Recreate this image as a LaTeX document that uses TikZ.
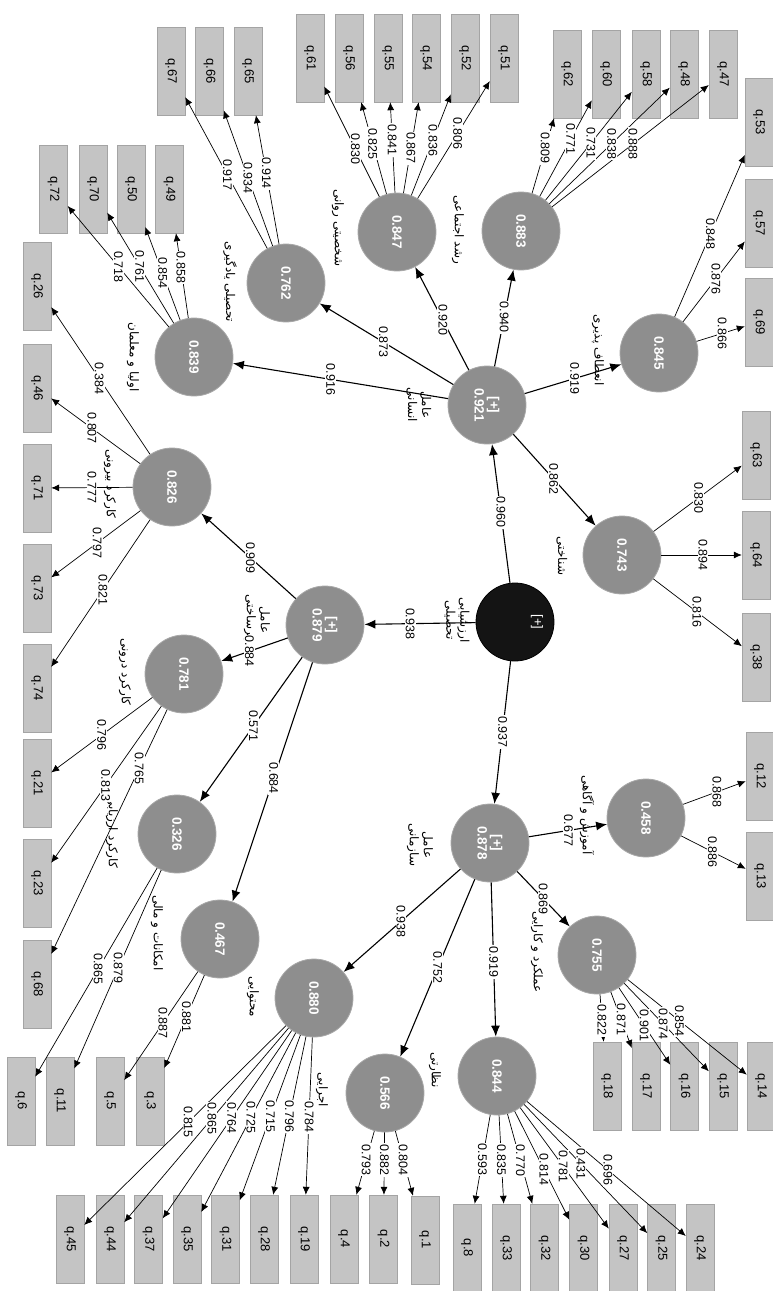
\documentclass[tikz,border=0pt]{standalone}
\usepackage{fontspec}
\setmainfont{Liberation Sans}
\newfontfamily\fa[Script=Arabic]{DejaVu Sans}
\TeXXeTstate=1
\usetikzlibrary{arrows.meta,calc}
\definecolor{lvgray}{HTML}{8E8E8E}
\definecolor{lvedge}{HTML}{A8A8A8}
\definecolor{boxfill}{HTML}{C4C4C4}
\definecolor{boxline}{HTML}{A4A4A4}
\pgfdeclarelayer{fg}
\pgfsetlayers{main,fg}
\newcommand\ldg[5][ld]{\draw[#1] (#2) -- (#3);
  \begin{pgfonlayer}{fg}\node[lab] (l#2#3) at ($(#2)!(#4)!(#3)$) {#5};\end{pgfonlayer}}
\newcommand\fat[1]{\beginR #1\endR}
\begin{document}
\begin{tikzpicture}[x=1pt,y=-1pt,
  box/.style={draw=boxline, fill=boxfill, rotate=-90, minimum width=88pt, minimum height=28pt, inner sep=0pt, font=\fontsize{13}{15}\selectfont},
  lv/.style={circle, fill=lvgray, draw=lvedge, line width=0.8pt, minimum size=78pt, inner sep=0pt, text=white, font=\bfseries\fontsize{13.5}{15}\selectfont, rotate=-90, align=center},
  lab/.style={fill=white, inner sep=1pt, rotate=-90, font=\fontsize{12.5}{13}\selectfont},
  plab/.style={rotate=-90, font=\fa\fontsize{12}{14}\selectfont, align=center, inner sep=0pt},
  ld/.style={-{Latex[length=8pt,width=7pt]}, line width=0.7pt},
  st/.style={-{Latex[length=11pt,width=9pt]}, line width=1.1pt}]
\useasboundingbox (0,0) rectangle (773,1291);
% ---------- boxes ----------
\node[box] (q67) at (171,71) {q.67};
\node[box] (q66) at (209.5,71) {q.66};
\node[box] (q65) at (248,71) {q.65};
\node[box] (q61) at (310,58) {q.61};
\node[box] (q56) at (349,58) {q.56};
\node[box] (q55) at (388,58) {q.55};
\node[box] (q54) at (426,58) {q.54};
\node[box] (q52) at (465,58) {q.52};
\node[box] (q51) at (504,58) {q.51};
\node[box] (q62) at (567,74) {q.62};
\node[box] (q60) at (606,74) {q.60};
\node[box] (q58) at (646,74) {q.58};
\node[box] (q48) at (684,74) {q.48};
\node[box] (q47) at (723,74) {q.47};
\node[box] (q53) at (759,122) {q.53};
\node[box] (q57) at (759,223) {q.57};
\node[box] (q69) at (759,322) {q.69};
\node[box] (q63) at (756,455) {q.63};
\node[box] (q64) at (756,555) {q.64};
\node[box] (q38) at (756,657) {q.38};
\node[box] (q12) at (760,776) {q.12};
\node[box] (q13) at (760,876) {q.13};
\node[box] (q18) at (607,1086) {q.18};
\node[box] (q17) at (646,1086) {q.17};
\node[box] (q16) at (684.5,1086) {q.16};
\node[box] (q15) at (723,1086) {q.15};
\node[box] (q14) at (761,1086) {q.14};
\node[box] (q8) at (467,1248) {q.8};
\node[box] (q33) at (506,1248) {q.33};
\node[box] (q32) at (544.5,1248) {q.32};
\node[box] (q30) at (583.5,1248) {q.30};
\node[box] (q27) at (623,1248) {q.27};
\node[box] (q25) at (661.5,1248) {q.25};
\node[box] (q24) at (700,1248) {q.24};
\node[box] (q1) at (425,1240) {q.1};
\node[box] (q2) at (383.5,1239) {q.2};
\node[box] (q4) at (344,1239) {q.4};
\node[box] (q19) at (304,1239) {q.19};
\node[box] (q28) at (264,1239) {q.28};
\node[box] (q31) at (225.5,1239) {q.31};
\node[box] (q35) at (187,1239) {q.35};
\node[box] (q37) at (148.5,1239) {q.37};
\node[box] (q44) at (110,1239) {q.44};
\node[box] (q45) at (70,1239) {q.45};
\node[box] (q6) at (21,1101) {q.6};
\node[box] (q11) at (60,1101) {q.11};
\node[box] (q5) at (110,1101) {q.5};
\node[box] (q3) at (150,1101) {q.3};
\node[box] (q72) at (53.5,189) {q.72};
\node[box] (q70) at (93,189) {q.70};
\node[box] (q50) at (131,189) {q.50};
\node[box] (q49) at (169.5,189) {q.49};
\node[box] (q26) at (37,286) {q.26};
\node[box] (q46) at (37,388) {q.46};
\node[box] (q71) at (37,488) {q.71};
\node[box] (q73) at (37,588) {q.73};
\node[box] (q74) at (37,688) {q.74};
\node[box] (q21) at (37,783) {q.21};
\node[box] (q23) at (37,883) {q.23};
\node[box] (q68) at (37,984) {q.68};
% ---------- latent variables ----------
\node[lv, fill=black!92, draw=black] (blk) at (515,622) {};
\node[rotate=-90, text=white, font=\fontsize{13}{15}\selectfont] (blkt) at (537,622) {[+]};
\node[lv] (c921) at (487,405) {[+]\\0.921};
\node[lv] (c879) at (325,625) {[+]\\0.879};
\node[lv] (c878) at (490,843) {[+]\\0.878};
\node[lv] (c762) at (286,283) {0.762};
\node[lv] (c839) at (194,357) {0.839};
\node[lv] (c847) at (397,232) {0.847};
\node[lv] (c883) at (521,231) {0.883};
\node[lv] (c845) at (659,353) {0.845};
\node[lv] (c743) at (622,555) {0.743};
\node[lv] (c826) at (172,487) {0.826};
\node[lv] (c781) at (184,674) {0.781};
\node[lv] (c326) at (177,834) {0.326};
\node[lv] (c467) at (220,939) {0.467};
\node[lv] (c880) at (314,998) {0.880};
\node[lv] (c566) at (385,1093) {0.566};
\node[lv] (c844) at (497,1076) {0.844};
\node[lv] (c458) at (646,818) {0.458};
\node[lv] (c755) at (597,955) {0.755};
% ---------- names ----------
\node[plab] (t-blk) at (457,620) {\fat{ارزشیابی}\\\fat{تحصیلی}};
\node[plab] (t921) at (419,405) {\fat{عامل}\\\fat{انسانی}};
\node[plab] (t879) at (257,620) {\fat{عامل}\\\fat{زیرساختی}};
\node[plab] (t878) at (420,845) {\fat{عامل}\\\fat{سازمانی}};
\node[plab] (t762) at (230,282) {\fat{تحصیلی یادگیری}};
\node[plab] (t839) at (133,357) {\fat{اولیا و معلمان}};
\node[plab] (t847) at (338,228) {\fat{شخصیتی روانی}};
\node[plab] (t883) at (458,230) {\fat{رشد اجتماعی}};
\node[plab] (t845) at (598,350) {\fat{انعطاف پذیری}};
\node[plab] (t743) at (562,556) {\fat{شناختی}};
\node[plab] (t826) at (110,484) {\fat{کارکرد بیرونی}};
\node[plab] (t781) at (125,672) {\fat{کارکرد درونی}};
\node[plab] (t326) at (112,832) {\fat{کارکرد ارزیابی}};
\node[plab] (t467) at (157,933) {\fat{امکانات و مالی}};
\node[plab] (t880) at (253,997) {\fat{محتوایی}};
\node[plab] (t566) at (322,1090) {\fat{اجرایی}};
\node[plab] (t844) at (435,1070) {\fat{نظارتی}};
\node[plab] (t458) at (587,815) {\fat{آموزش و آگاهی}};
\node[plab] (t755) at (537,952) {\fat{عملکرد و کارایی}};
% ---------- structural paths ----------
\ldg[st]{blk}{c921}{502,512}{0.960}
\ldg[st]{blk}{c879}{410,619}{0.938}
\ldg[st]{blk}{c878}{503,732}{0.937}
\ldg[st]{c921}{c839}{330,384}{0.916}
\ldg[st]{c921}{c762}{383,343}{0.873}
\ldg[st]{c921}{c847}{443,320}{0.920}
\ldg[st]{c921}{c883}{503,317}{0.940}
\ldg[st]{c921}{c845}{575,380}{0.919}
\ldg[st]{c921}{c743}{555,478}{0.862}
\ldg[st]{c879}{c826}{253,555}{0.909}
\ldg[st]{c879}{c781}{257,673}{0.884}
\ldg[st]{c879}{c326}{255,727}{0.571}
\ldg[st]{c879}{c467}{273,778}{0.684}
\ldg[st]{c878}{c458}{568,828}{0.677}
\ldg[st]{c878}{c755}{545,897}{0.869}
\ldg[st]{c878}{c844}{495,962}{0.919}
\ldg[st]{c878}{c566}{437,967}{0.752}
\ldg[st]{c878}{c880}{398,918}{0.938}
% ---------- loadings ----------
\ldg{c762}{q67}{227,175}{0.917}
\ldg{c762}{q66}{250,177}{0.934}
\ldg{c762}{q65}{268,173}{0.914}
\ldg{c839}{q72}{118,267}{0.718}
\ldg{c839}{q70}{142,265}{0.761}
\ldg{c839}{q50}{163,273}{0.854}
\ldg{c839}{q49}{183,267}{0.858}
\ldg{c847}{q61}{353,150}{0.830}
\ldg{c847}{q56}{375,143}{0.825}
\ldg{c847}{q55}{393,140}{0.841}
\ldg{c847}{q54}{410,148}{0.867}
\ldg{c847}{q52}{432,140}{0.836}
\ldg{c847}{q51}{452,130}{0.806}
\ldg{c883}{q62}{545,148}{0.809}
\ldg{c883}{q60}{563,135}{0.771}
\ldg{c883}{q58}{587,140}{0.731}
\ldg{c883}{q48}{608,140}{0.838}
\ldg{c883}{q47}{630,140}{0.888}
\ldg{c845}{q53}{708,233}{0.848}
\ldg{c845}{q57}{717,280}{0.876}
\ldg{c845}{q69}{722,333}{0.866}
\ldg{c743}{q63}{698,497}{0.830}
\ldg{c743}{q64}{703,555}{0.894}
\ldg{c743}{q38}{700,608}{0.816}
\ldg{c826}{q26}{100,378}{0.384}
\ldg{c826}{q46}{95,424}{0.807}
\ldg{c826}{q71}{92,487}{0.777}
\ldg{c826}{q73}{95,540}{0.797}
\ldg{c826}{q74}{103,590}{0.821}
\ldg{c781}{q21}{100,733}{0.796}
\ldg{c781}{q23}{102,783}{0.813}
\ldg{c781}{q68}{142,770}{0.765}
\ldg{c326}{q11}{118,968}{0.879}
\ldg{c326}{q6}{100,970}{0.865}
\ldg{c467}{q3}{187,1017}{0.881}
\ldg{c467}{q5}{163,1023}{0.887}
\ldg{c880}{q19}{312,1117}{0.784}
\ldg{c880}{q28}{292,1117}{0.796}
\ldg{c880}{q31}{272,1117}{0.715}
\ldg{c880}{q35}{250,1117}{0.725}
\ldg{c880}{q37}{230,1117}{0.764}
\ldg{c880}{q44}{210,1117}{0.865}
\ldg{c880}{q45}{188,1122}{0.815}
\ldg{c566}{q4}{367,1160}{0.793}
\ldg{c566}{q2}{385,1160}{0.882}
\ldg{c566}{q1}{403,1160}{0.804}
\ldg{c844}{q8}{485,1160}{0.593}
\ldg{c844}{q33}{502,1160}{0.835}
\ldg{c844}{q32}{522,1160}{0.770}
\ldg{c844}{q30}{543,1170}{0.814}
\ldg{c844}{q27}{565,1165}{0.781}
\ldg{c844}{q25}{585,1160}{0.431}
\ldg{c844}{q24}{608,1170}{0.696}
\ldg{c755}{q18}{602,1020}{0.822}
\ldg{c755}{q17}{620,1020}{0.871}
\ldg{c755}{q16}{645,1025}{0.901}
\ldg{c755}{q15}{667,1020}{0.874}
\ldg{c755}{q14}{688,1010}{0.854}
\ldg{c458}{q12}{717,792}{0.868}
\ldg{c458}{q13}{715,847}{0.886}
\end{tikzpicture}
\end{document}
